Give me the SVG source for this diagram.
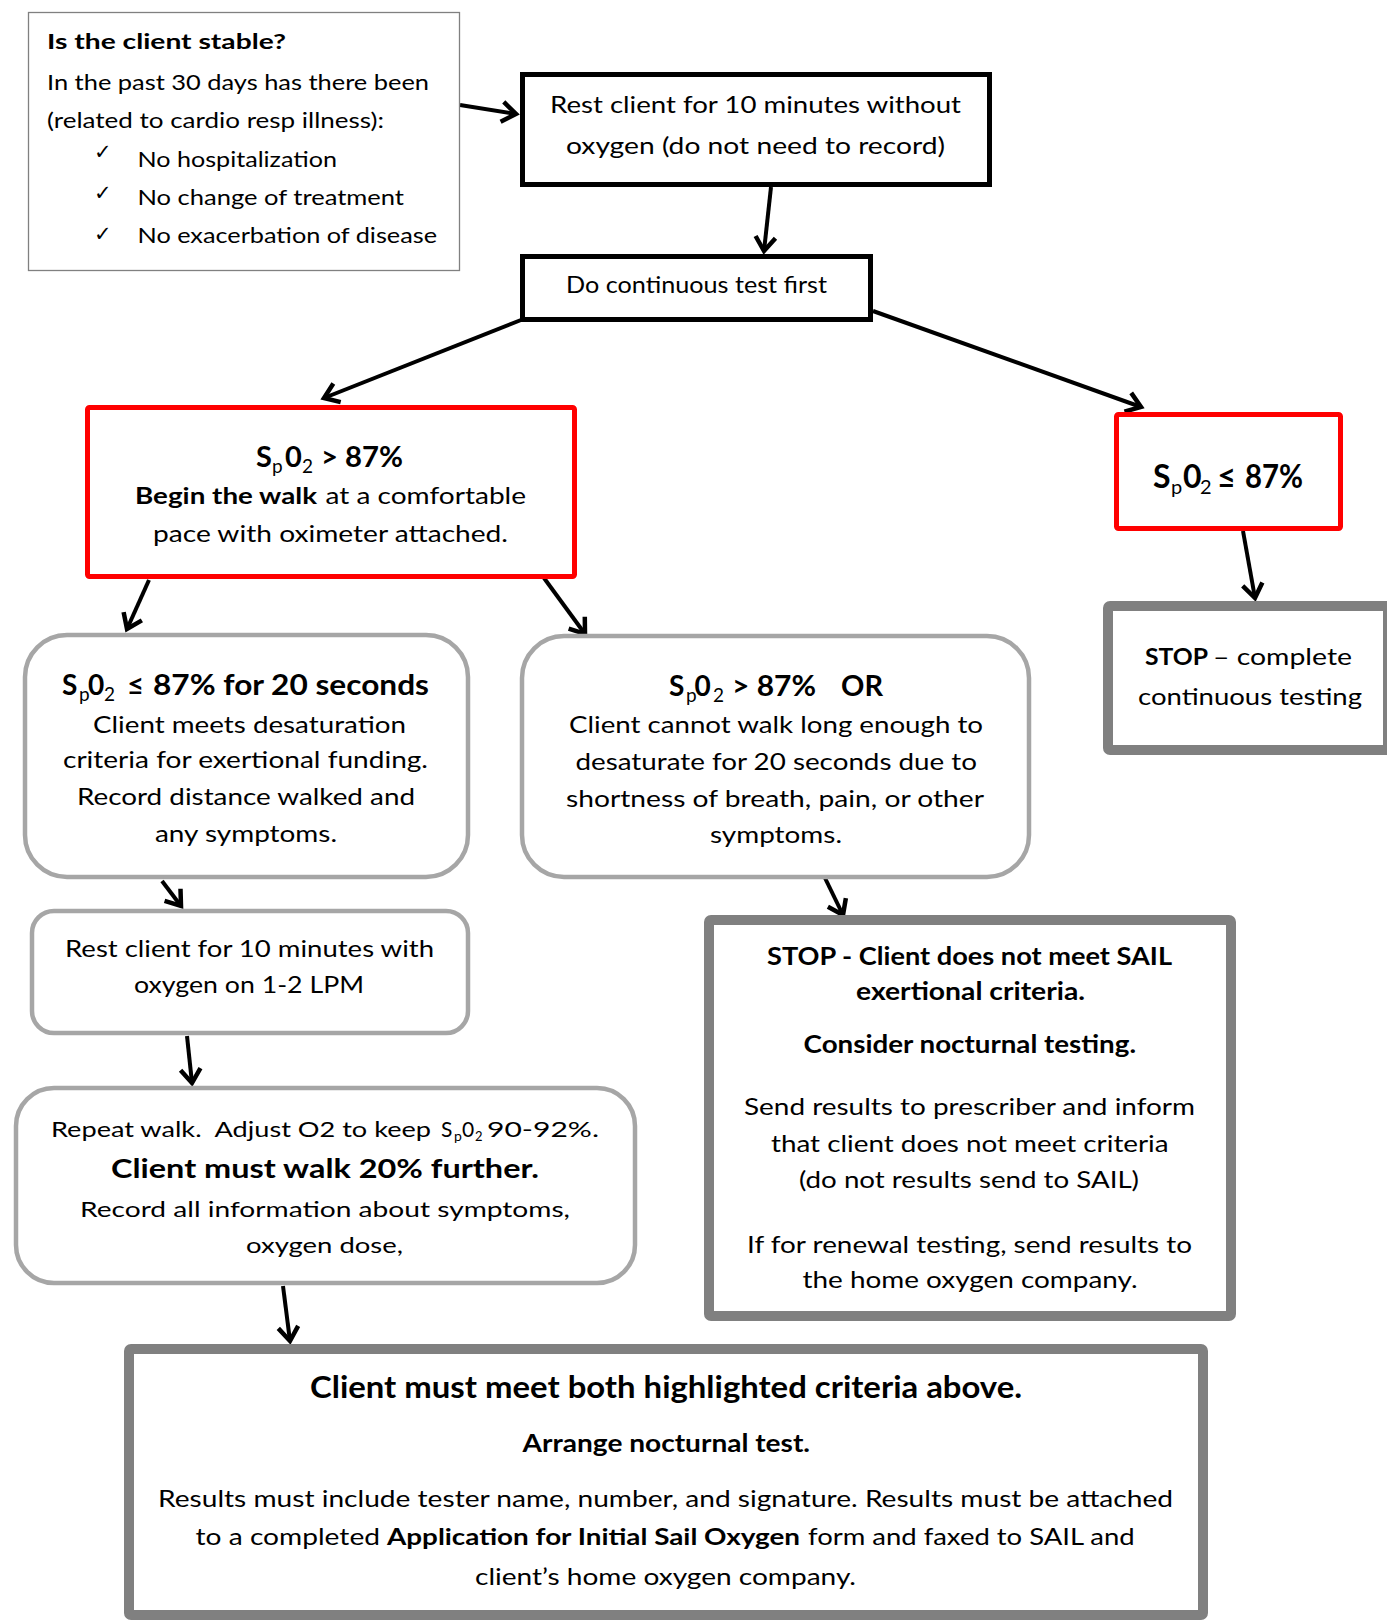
<svg xmlns="http://www.w3.org/2000/svg" width="1387" height="1620" viewBox="0 0 1387 1620">
<defs>
<style>
text{font-family:Lato,"Open Sans","Liberation Sans",sans-serif;fill:#000}
.b{font-weight:bold}
.n21{font-size:21px}
.n23{font-size:23px}
.n24{font-size:24px}
.chk{font-family:"DejaVu Sans",sans-serif;font-size:21px}
.blk{fill:#fff;stroke:#000;stroke-width:5}
.red{fill:#fff;stroke:#ff0000;stroke-width:5}
.gth{fill:#fff;stroke:#808080;stroke-width:10}
.grd{fill:#fff;stroke:#a6a6a6;stroke-width:4.5}
.con{fill:none;stroke:#000;stroke-width:4;marker-end:url(#ah)}
</style>
<marker id="ah" markerUnits="userSpaceOnUse" markerWidth="34" markerHeight="34" viewBox="-17 -17 34 34" refX="0" refY="0" orient="auto">
<path d="M-14,-10 L0,0 L-14,10" fill="none" stroke="#000" stroke-width="4.5" stroke-linejoin="miter"/>
</marker>
</defs>

<g id="connectors">
<line class="con" x1="460" y1="105" x2="516" y2="114"/>
<line class="con" x1="771" y1="187" x2="764" y2="251"/>
<line class="con" x1="521" y1="320" x2="324" y2="398"/>
<line class="con" x1="873" y1="311" x2="1141" y2="407"/>
<line class="con" x1="149" y1="580" x2="127" y2="629"/>
<line class="con" x1="544" y1="578" x2="585" y2="634"/>
<line class="con" x1="1243" y1="531" x2="1255" y2="598"/>
<line class="con" x1="162" y1="881" x2="181" y2="906"/>
<line class="con" x1="825" y1="878" x2="843" y2="915"/>
<line class="con" x1="187" y1="1036" x2="192" y2="1083"/>
<line class="con" x1="283" y1="1286" x2="290" y2="1341"/>
</g>

<g id="stable">
<rect x="28.5" y="12.5" width="431" height="258" fill="#fff" stroke="#808080" stroke-width="1.3"/>
<text class="n21 b" x="47" y="49" textLength="239" lengthAdjust="spacingAndGlyphs">Is the client stable?</text>
<text class="n21" x="47" y="90" textLength="382" lengthAdjust="spacingAndGlyphs">In the past 30 days has there been</text>
<text class="n21" x="47" y="128" textLength="337" lengthAdjust="spacingAndGlyphs">(related to cardio resp illness):</text>
<text class="chk" x="94" y="159">✓</text>
<text class="n21" x="137.5" y="167" textLength="199.5" lengthAdjust="spacingAndGlyphs">No hospitalization</text>
<text class="chk" x="94" y="200">✓</text>
<text class="n21" x="137.5" y="205" textLength="266.5" lengthAdjust="spacingAndGlyphs">No change of treatment</text>
<text class="chk" x="94" y="241">✓</text>
<text class="n21" x="137.5" y="243" textLength="299.5" lengthAdjust="spacingAndGlyphs">No exacerbation of disease</text>
</g>

<g id="rest-no-o2">
<rect class="blk" x="522.5" y="74.5" width="467" height="110"/>
<text class="n23" x="550" y="113" textLength="411" lengthAdjust="spacingAndGlyphs">Rest client for 10 minutes without</text>
<text class="n23" x="566" y="154" textLength="379" lengthAdjust="spacingAndGlyphs">oxygen (do not need to record)</text>
</g>

<g id="continuous">
<rect class="blk" x="522.5" y="256.5" width="348" height="63"/>
<text class="n23" x="566" y="293" textLength="261" lengthAdjust="spacingAndGlyphs">Do continuous test first</text>
</g>

<g id="spo2-high">
<rect class="red" x="87.5" y="407.5" width="487" height="169" rx="2"/>
<text class="b" font-size="29" x="256" y="467">S</text>
<text font-size="19" x="272" y="473">p</text>
<text class="b" font-size="29" x="285" y="467">0</text>
<text font-size="19" x="302" y="473">2</text>
<text class="b" font-size="29" x="321" y="467" textLength="82" lengthAdjust="spacingAndGlyphs">&gt; 87%</text>
<text class="n23 b" x="135" y="504" textLength="182" lengthAdjust="spacingAndGlyphs">Begin the walk</text>
<text class="n23" x="325.5" y="504" textLength="200.5" lengthAdjust="spacingAndGlyphs">at a comfortable</text>
<text class="n23" x="153" y="542" textLength="355" lengthAdjust="spacingAndGlyphs">pace with oximeter attached.</text>
</g>

<g id="spo2-low">
<rect class="red" x="1116.5" y="414.5" width="224" height="114" rx="2"/>
<text class="b" font-size="32" x="1153" y="488">S</text>
<text font-size="20" x="1171" y="494">p</text>
<text class="b" font-size="32" x="1183" y="488">0</text>
<text font-size="20" x="1200" y="494">2</text>
<text class="b" font-size="32" x="1217" y="488" textLength="19" lengthAdjust="spacingAndGlyphs">≤</text>
<text class="b" font-size="32" x="1245" y="488" textLength="58" lengthAdjust="spacingAndGlyphs">87%</text>
</g>

<g id="stop-continuous">
<rect class="gth" x="1108" y="606" width="280" height="144" rx="2"/>
<text class="n23 b" x="1145" y="665" textLength="63" lengthAdjust="spacingAndGlyphs">STOP</text>
<text class="n23" x="1213" y="665" textLength="139" lengthAdjust="spacingAndGlyphs">– complete</text>
<text class="n23" x="1138" y="705" textLength="224" lengthAdjust="spacingAndGlyphs">continuous testing</text>
</g>

<g id="desat">
<rect class="grd" x="25" y="635" width="443" height="242" rx="42"/>
<text class="b" font-size="28" x="62" y="695">S</text>
<text font-size="19" x="79" y="701">p</text>
<text class="b" font-size="28" x="88" y="695">0</text>
<text font-size="19" x="104" y="701">2</text>
<text class="b" font-size="28" x="127" y="695" textLength="17" lengthAdjust="spacingAndGlyphs">≤</text>
<text class="b" font-size="28" x="153" y="695" textLength="276" lengthAdjust="spacingAndGlyphs">87% for 20 seconds</text>
<text class="n24" x="93" y="733" textLength="313" lengthAdjust="spacingAndGlyphs">Client meets desaturation</text>
<text class="n24" x="63" y="768" textLength="365" lengthAdjust="spacingAndGlyphs">criteria for exertional funding.</text>
<text class="n24" x="77" y="805" textLength="338" lengthAdjust="spacingAndGlyphs">Record distance walked and</text>
<text class="n24" x="155" y="842" textLength="182" lengthAdjust="spacingAndGlyphs">any symptoms.</text>
</g>

<g id="no-desat">
<rect class="grd" x="522" y="636" width="507" height="241" rx="42"/>
<text class="b" font-size="28" x="669" y="696">S</text>
<text font-size="19" x="686" y="702">p</text>
<text class="b" font-size="28" x="694.5" y="696">0</text>
<text font-size="19" x="713" y="702">2</text>
<text class="b" font-size="28" x="732" y="696" textLength="84" lengthAdjust="spacingAndGlyphs">&gt; 87%</text>
<text class="b" font-size="28" x="841" y="696" textLength="42" lengthAdjust="spacingAndGlyphs">OR</text>
<text class="n24" x="569" y="733" textLength="414" lengthAdjust="spacingAndGlyphs">Client cannot walk long enough to</text>
<text class="n24" x="575.5" y="770" textLength="401.5" lengthAdjust="spacingAndGlyphs">desaturate for 20 seconds due to</text>
<text class="n24" x="566" y="807" textLength="418" lengthAdjust="spacingAndGlyphs">shortness of breath, pain, or other</text>
<text class="n24" x="710" y="843" textLength="132" lengthAdjust="spacingAndGlyphs">symptoms.</text>
</g>

<g id="rest-o2">
<rect class="grd" x="32" y="911" width="436" height="122" rx="22"/>
<text class="n24" x="65" y="957" textLength="369" lengthAdjust="spacingAndGlyphs">Rest client for 10 minutes with</text>
<text class="n24" x="134" y="993" textLength="230" lengthAdjust="spacingAndGlyphs">oxygen on 1-2 LPM</text>
</g>

<g id="repeat-walk">
<rect class="grd" x="16" y="1088" width="619" height="195" rx="38"/>
<text class="n21" x="51" y="1137" textLength="380" lengthAdjust="spacingAndGlyphs" xml:space="preserve">Repeat walk.  Adjust O2 to keep</text>
<text class="n21" x="441" y="1137">S</text>
<text font-size="14" x="454" y="1141">p</text>
<text class="n21" x="462" y="1137">0</text>
<text font-size="13" x="475" y="1141">2</text>
<text class="n21" x="487" y="1137" textLength="112" lengthAdjust="spacingAndGlyphs">90-92%.</text>
<text class="b" font-size="27" x="111" y="1178" textLength="428" lengthAdjust="spacingAndGlyphs">Client must walk 20% further.</text>
<text class="n21" x="80" y="1217" textLength="490" lengthAdjust="spacingAndGlyphs">Record all information about symptoms,</text>
<text class="n21" x="246" y="1253" textLength="157" lengthAdjust="spacingAndGlyphs">oxygen dose,</text>
</g>

<g id="stop-exertional">
<rect class="gth" x="709" y="920" width="522" height="396" rx="2"/>
<text class="b" font-size="25" x="767" y="965" textLength="405" lengthAdjust="spacingAndGlyphs">STOP - Client does not meet SAIL</text>
<text class="b" font-size="25" x="856" y="1000" textLength="229" lengthAdjust="spacingAndGlyphs">exertional criteria.</text>
<text class="b" font-size="25" x="803.6" y="1053" textLength="332.4" lengthAdjust="spacingAndGlyphs">Consider nocturnal testing.</text>
<text class="n23" x="744" y="1115" textLength="451" lengthAdjust="spacingAndGlyphs">Send results to prescriber and inform</text>
<text class="n23" x="771" y="1152" textLength="397.6" lengthAdjust="spacingAndGlyphs">that client does not meet criteria</text>
<text class="n23" x="799" y="1188" textLength="340" lengthAdjust="spacingAndGlyphs">(do not results send to SAIL)</text>
<text class="n23" x="747" y="1253" textLength="445" lengthAdjust="spacingAndGlyphs">If for renewal testing, send results to</text>
<text class="n23" x="802.5" y="1288" textLength="335" lengthAdjust="spacingAndGlyphs">the home oxygen company.</text>
</g>

<g id="both-criteria">
<rect class="gth" x="129" y="1349" width="1074" height="266" rx="2"/>
<text class="b" font-size="30" x="310" y="1398" textLength="712" lengthAdjust="spacingAndGlyphs">Client must meet both highlighted criteria above.</text>
<text class="b" font-size="24" x="522.6" y="1452" textLength="287.4" lengthAdjust="spacingAndGlyphs">Arrange nocturnal test.</text>
<text class="n23" x="158" y="1507" textLength="1015" lengthAdjust="spacingAndGlyphs">Results must include tester name, number, and signature. Results must be attached</text>
<text class="n23" x="195.6" y="1545" textLength="184.4" lengthAdjust="spacingAndGlyphs">to a completed</text>
<text class="n23 b" x="387" y="1545" textLength="413" lengthAdjust="spacingAndGlyphs">Application for Initial Sail Oxygen</text>
<text class="n23" x="808" y="1545" textLength="326.6" lengthAdjust="spacingAndGlyphs">form and faxed to SAIL and</text>
<text class="n23" x="475" y="1585" textLength="381" lengthAdjust="spacingAndGlyphs">client’s home oxygen company.</text>
</g>
</svg>
